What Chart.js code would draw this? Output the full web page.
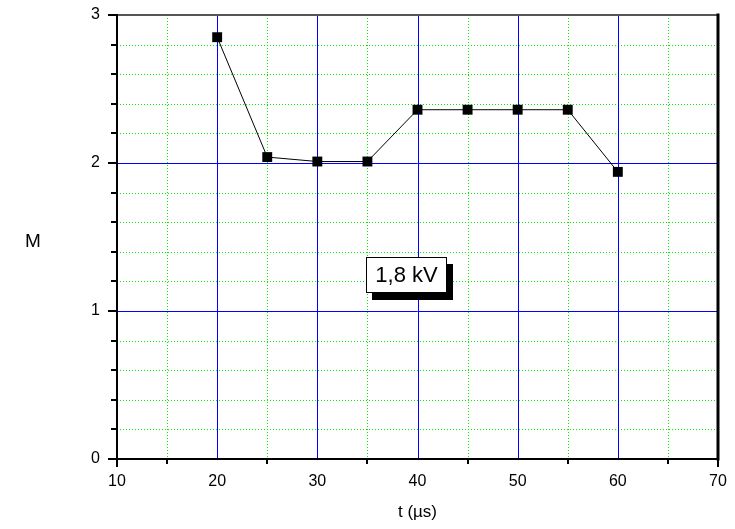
<!DOCTYPE html>
<html>
<head>
<meta charset="utf-8">
<script src="https://cdn.jsdelivr.net/npm/chart.js@4/dist/chart.umd.min.js"></script>
<style>
html,body{margin:0;padding:0;background:#fff;}
#wrap{position:relative;width:735px;height:529px;}
</style>
</head>
<body>
<div id="wrap"><canvas id="c" width="735" height="529"></canvas></div>
<script>
// ---- data ----
const tValues = [20, 25, 30, 35, 40, 45, 50, 55, 60];
const mValues = [2.85, 2.04, 2.01, 2.01, 2.36, 2.36, 2.36, 2.36, 1.94];
const xTickLabels = [10, 20, 30, 40, 50, 60, 70];
const yTickLabels = [0, 1, 2, 3];
const xTitle = 't (µs)';
const yTitle = 'M';
const annotationText = '1,8 kV';
const annotationAt = [38.9, 1.243];

const FONT = '"Liberation Sans", Arial, sans-serif';

const framePlugin = {
  id: 'frame',
  beforeDatasetsDraw(chart) {
    const {ctx, chartArea: a, scales: {x, y}} = chart;
    ctx.save();
    // minor grid (green dotted)
    ctx.strokeStyle = '#00ee00';
    ctx.lineWidth = 1;
    ctx.setLineDash([1, 2]);
    for (let v = 15; v < 70; v += 10) {
      const px = Math.round(x.getPixelForValue(v)) + 0.5;
      ctx.beginPath(); ctx.moveTo(px, a.top); ctx.lineTo(px, a.bottom); ctx.stroke();
    }
    for (let i = 1; i < 15; i++) {
      if (i % 5 === 0) continue;
      const py = Math.round(y.getPixelForValue(i * 0.2)) + 0.5;
      ctx.beginPath(); ctx.moveTo(a.left, py); ctx.lineTo(a.right, py); ctx.stroke();
    }
    ctx.setLineDash([]);
    // major grid (blue solid)
    ctx.strokeStyle = '#0000ff';
    for (let v = 20; v < 70; v += 10) {
      const px = Math.round(x.getPixelForValue(v)) + 0.5;
      ctx.beginPath(); ctx.moveTo(px, a.top); ctx.lineTo(px, a.bottom); ctx.stroke();
    }
    for (let v = 1; v < 3; v++) {
      const py = Math.round(y.getPixelForValue(v)) + 0.5;
      ctx.beginPath(); ctx.moveTo(a.left, py); ctx.lineTo(a.right, py); ctx.stroke();
    }
    ctx.restore();
  },
  afterDraw(chart) {
    const {ctx, chartArea: a, scales: {x, y}} = chart;
    ctx.save();
    // frame
    ctx.lineCap = 'square';
    ctx.strokeStyle = '#555555';
    ctx.lineWidth = 2;
    ctx.beginPath(); ctx.moveTo(a.left, a.top); ctx.lineTo(a.right, a.top); ctx.stroke();
    ctx.strokeStyle = '#000';
    ctx.lineWidth = 3;
    ctx.beginPath(); ctx.moveTo(a.right, a.top); ctx.lineTo(a.right, a.bottom); ctx.stroke();
    ctx.lineWidth = 2;
    ctx.beginPath(); ctx.moveTo(a.left, a.top); ctx.lineTo(a.left, a.bottom); ctx.lineTo(a.right, a.bottom); ctx.stroke();
    ctx.lineCap = 'butt';
    // left ticks
    for (let i = 0; i <= 15; i++) {
      const py = Math.round(y.getPixelForValue(i * 0.2));
      const len = (i % 5 === 0) ? 9 : 6;
      ctx.beginPath(); ctx.moveTo(a.left, py); ctx.lineTo(a.left - len, py); ctx.stroke();
    }
    // bottom ticks
    for (let v = 10; v <= 70; v += 5) {
      const px = Math.round(x.getPixelForValue(v));
      const len = (v % 10 === 0) ? ((v === 10 || v === 70) ? 8 : 0) : 5;
      if (!len) continue;
      ctx.beginPath(); ctx.moveTo(px, a.bottom); ctx.lineTo(px, a.bottom + len); ctx.stroke();
    }
    // y title (horizontal)
    ctx.fillStyle = '#000';
    ctx.font = '19px ' + FONT;
    ctx.textAlign = 'center';
    ctx.textBaseline = 'middle';
    ctx.fillText(yTitle, 33, y.getPixelForValue(1.47));
    // annotation box
    const cx = x.getPixelForValue(annotationAt[0]);
    const cy = y.getPixelForValue(annotationAt[1]);
    const w = 81, h = 36;
    const bx = Math.round(cx - w / 2), by = Math.round(cy - h / 2);
    ctx.fillStyle = '#000';
    ctx.fillRect(bx + 6, by + 7, w, h);
    ctx.fillStyle = '#fff';
    ctx.fillRect(bx, by, w, h);
    ctx.strokeStyle = '#000';
    ctx.lineWidth = 1;
    ctx.strokeRect(bx + 0.5, by + 0.5, w - 1, h - 1);
    ctx.fillStyle = '#000';
    ctx.font = '22px ' + FONT;
    ctx.fillText(annotationText, cx, cy + 1);
    ctx.restore();
  }
};

new Chart(document.getElementById('c'), {
  type: 'scatter',
  data: {
    datasets: [{
      data: tValues.map((t, i) => ({x: t, y: mValues[i]})),
      showLine: true,
      borderColor: '#000',
      borderWidth: 1,
      pointStyle: 'rect',
      pointRadius: 7,
      pointHoverRadius: 7,
      backgroundColor: '#000',
      pointBorderColor: '#000',
      pointBorderWidth: 0
    }]
  },
  options: {
    responsive: false,
    animation: false,
    events: [],
    layout: {padding: {top: 15, right: 17, left: 0, bottom: 0}},
    plugins: {legend: {display: false}, tooltip: {enabled: false}},
    scales: {
      x: {
        type: 'linear', min: 10, max: 70,
        afterBuildTicks: (s) => { s.ticks = xTickLabels.map(v => ({value: v})); },
        ticks: {color: '#000', font: {family: FONT, size: 16}, padding: 5, maxRotation: 0},
        grid: {display: false},
        border: {display: false},
        title: {display: true, text: xTitle, color: '#000', font: {family: FONT, size: 17}, padding: {top: 4, bottom: 6}},
        afterFit: (s) => { s.height = 70; s.paddingLeft = 0; s.paddingRight = 0; }
      },
      y: {
        type: 'linear', min: 0, max: 3,
        afterBuildTicks: (s) => { s.ticks = yTickLabels.map(v => ({value: v})); },
        ticks: {color: '#000', font: {family: FONT, size: 16}, padding: 9},
        grid: {display: false},
        border: {display: false},
        afterFit: (s) => { s.width = 117; s.paddingTop = 0; s.paddingBottom = 0; }
      }
    }
  },
  plugins: [framePlugin]
});
</script>
</body>
</html>
